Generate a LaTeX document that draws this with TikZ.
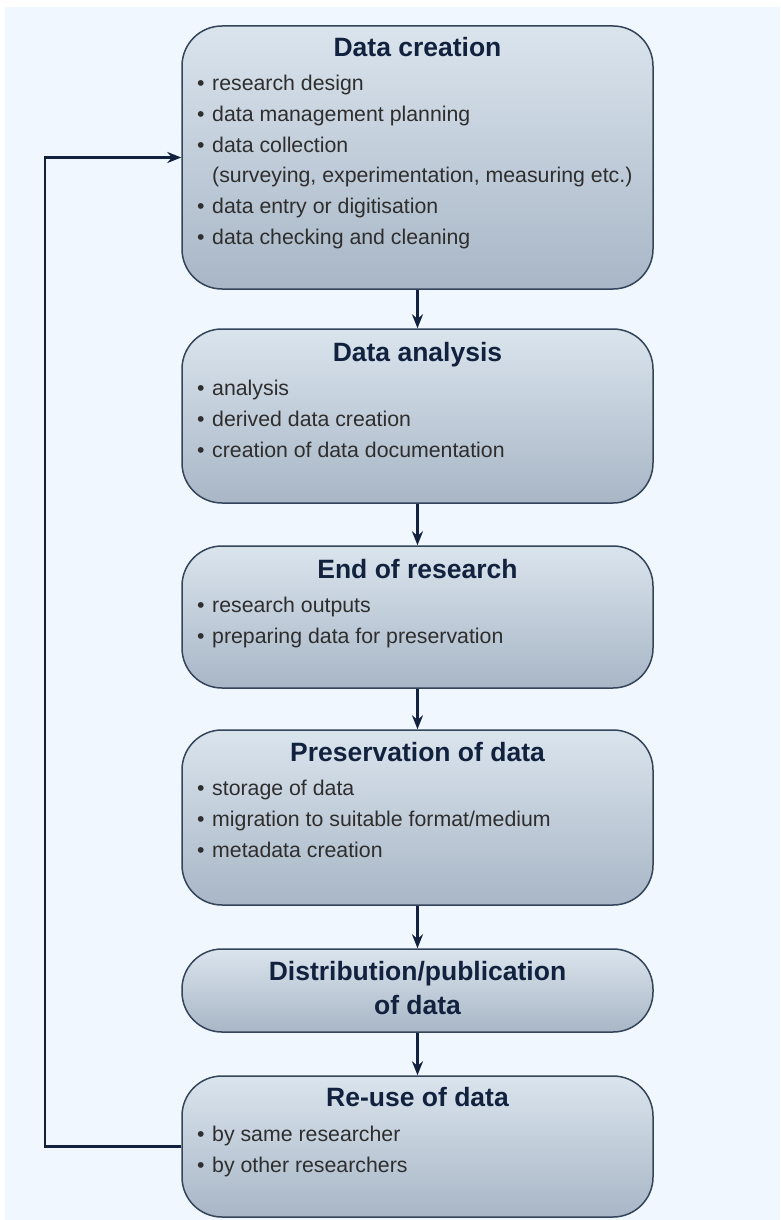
\documentclass[tikz,border=0pt]{standalone}
\usepackage{fontspec}
\setmainfont{Liberation Sans}
\usetikzlibrary{arrows.meta}
\definecolor{pagebg}{HTML}{F0F7FE}
\definecolor{boxtop}{HTML}{DAE4ED}
\definecolor{boxbot}{HTML}{A8B6C6}
\definecolor{boxline}{HTML}{34445A}
\definecolor{navy}{HTML}{12223E}
\definecolor{bodytext}{HTML}{2E2E2E}
\tikzset{
  stage/.style={draw=boxline, line width=1.5pt, rounded corners=40pt,
    top color=boxtop, bottom color=boxbot, minimum width=471pt, inner sep=0pt},
  heading/.style={anchor=base, text=navy, font=\fontsize{26.5}{32}\selectfont\bfseries, inner sep=0pt},
  item/.style={anchor=base west, text=bodytext, font=\fontsize{21.3}{28}\selectfont, inner sep=0pt},
  flow/.style={draw=navy, line width=2.4pt, -{Stealth[length=14pt,width=11pt]}},
}
\newcommand{\bul}{\makebox[15pt][l]{•}}
\begin{document}
\begin{tikzpicture}[x=1pt,y=-1pt]
  % page and background panel
  \fill[white] (0,0) rectangle (780,1220);
  \useasboundingbox (0,0) rectangle (780,1220);
  \fill[pagebg] (5,7) rectangle (780,1220);

  % stage boxes
  \node[stage, minimum height=263pt] (b1) at (417.5,157.5) {};
  \node[stage, minimum height=174pt] (b2) at (417.5,416) {};
  \node[stage, minimum height=142pt] (b3) at (417.5,617) {};
  \node[stage, minimum height=175pt] (b4) at (417.5,817.5) {};
  \node[stage, minimum height=83pt]  (b5) at (417.5,990.5) {};
  \node[stage, minimum height=141pt] (b6) at (417.5,1146.5) {};

  % Data creation
  \node[heading] (t1) at (417.5,57) {Data creation};
  \node[item] (b1a) at (197,91)  {\bul research design};
  \node[item] (b1b) at (197,122) {\bul data management planning};
  \node[item] (b1c) at (197,153) {\bul data collection};
  \node[item] (b1d) at (212,182) {(surveying, experimentation, measuring etc.)};
  \node[item] (b1e) at (197,213) {\bul data entry or digitisation};
  \node[item] (b1f) at (197,244) {\bul data checking and cleaning};

  % Data analysis
  \node[heading] (t2) at (417.5,361) {Data analysis};
  \node[item] (b2a) at (197,395) {\bul analysis};
  \node[item] (b2b) at (197,426) {\bul derived data creation};
  \node[item] (b2c) at (197,457) {\bul creation of data documentation};

  % End of research
  \node[heading] (t3) at (417.5,578) {End of research};
  \node[item] (b3a) at (197,612) {\bul research outputs};
  \node[item] (b3b) at (197,643) {\bul preparing data for preservation};

  % Preservation of data
  \node[heading] (t4) at (417.5,761) {Preservation of data};
  \node[item] (b4a) at (197,795) {\bul storage of data};
  \node[item] (b4b) at (197,826) {\bul migration to suitable format/medium};
  \node[item] (b4c) at (197,857) {\bul metadata creation};

  % Distribution/publication of data
  \node[heading] (t5a) at (417.5,980) {Distribution/publication};
  \node[heading] (t5b) at (417.5,1014) {of data};

  % Re-use of data
  \node[heading] (t6) at (417.5,1106) {Re-use of data};
  \node[item] (b6a) at (197,1141) {\bul by same researcher};
  \node[item] (b6b) at (197,1172) {\bul by other researchers};

  % connectors
  \draw[flow] (b1.south) -- (b2.north);
  \draw[flow] (b2.south) -- (b3.north);
  \draw[flow] (b3.south) -- (b4.north);
  \draw[flow] (b4.south) -- (b5.north);
  \draw[flow] (b5.south) -- (b6.north);
  \coordinate (loop) at (45,0);
  \draw[flow] (b6.west) -- (b6.west -| loop) |- (b1.west);
\end{tikzpicture}
\end{document}
